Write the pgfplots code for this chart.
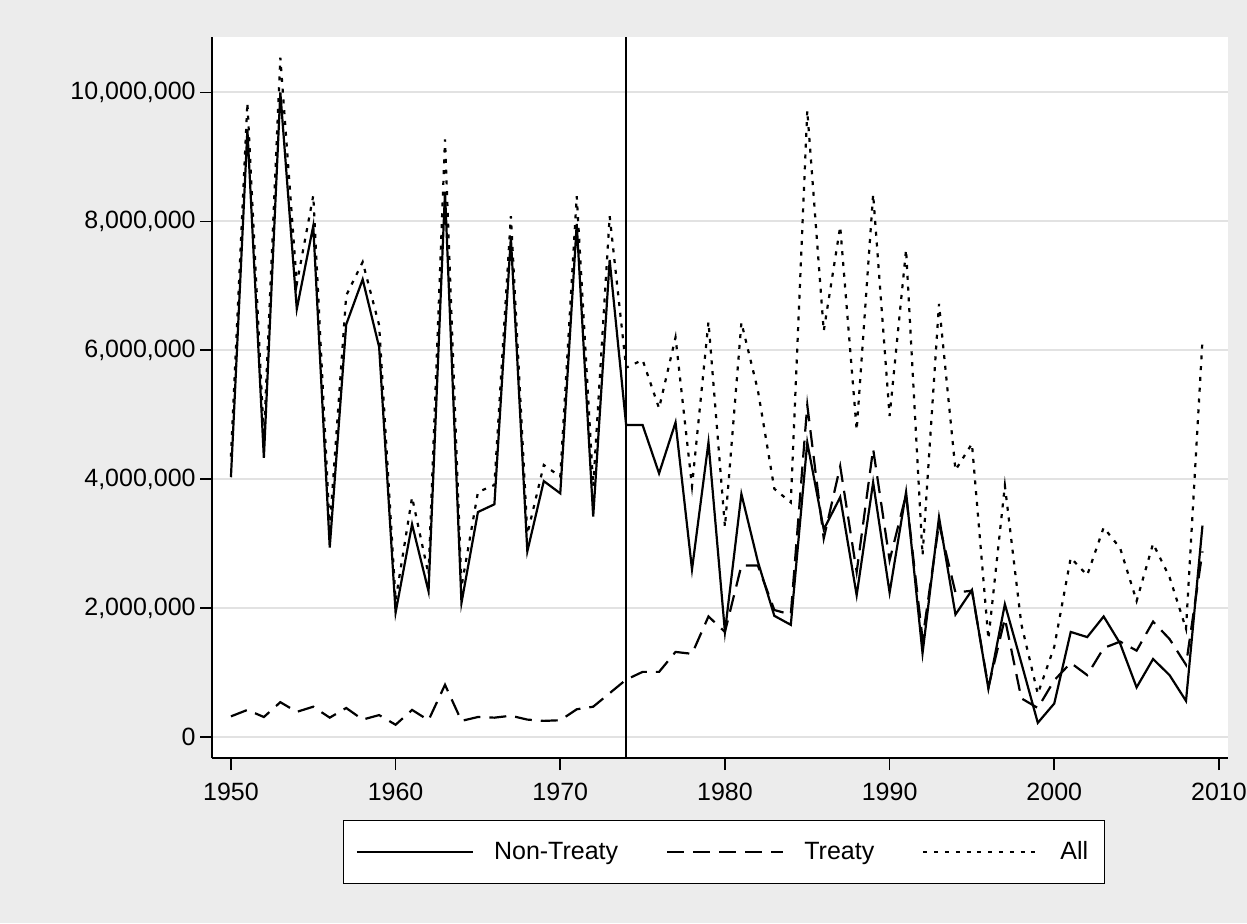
\documentclass[border=0pt]{standalone}
\usepackage{fontspec}
\setmainfont{Liberation Sans}
\usepackage{pgfplots}
\usepackage{pgfplotstable}
\pgfplotsset{compat=1.18}
\definecolor{bggray}{RGB}{236,236,236}
\definecolor{gridgray}{RGB}{226,226,226}

\pgfplotstableread{
year nt t all
1950 4030000 320000 4350000
1951 9420000 420000 9840000
1952 4330000 310000 4640000
1953 10000000 540000 10540000
1954 6640000 390000 7030000
1955 7930000 470000 8400000
1956 2940000 300000 3240000
1957 6400000 450000 6850000
1958 7100000 270000 7370000
1959 6050000 340000 6390000
1960 1930000 190000 2120000
1961 3300000 420000 3720000
1962 2260000 260000 2520000
1963 8460000 810000 9270000
1964 2080000 250000 2330000
1965 3490000 310000 3800000
1966 3610000 300000 3910000
1967 7750000 330000 8080000
1968 2880000 270000 3150000
1969 3970000 250000 4220000
1970 3780000 260000 4040000
1971 7960000 430000 8390000
1972 3420000 470000 3890000
1973 7400000 680000 8080000
1974 4840000 890000 5730000
1975 4840000 1010000 5850000
1976 4090000 1010000 5100000
1977 4880000 1320000 6200000
1978 2600000 1290000 3890000
1979 4570000 1870000 6440000
1980 1630000 1630000 3260000
1981 3770000 2660000 6430000
1982 2720000 2660000 5380000
1983 1880000 1970000 3850000
1984 1740000 1900000 3640000
1985 4570000 5150000 9720000
1986 3220000 3080000 6300000
1987 3720000 4200000 7920000
1988 2200000 2560000 4760000
1989 3950000 4470000 8420000
1990 2240000 2740000 4980000
1991 3800000 3760000 7560000
1992 1300000 1520000 2820000
1993 3410000 3310000 6720000
1994 1900000 2240000 4140000
1995 2280000 2270000 4550000
1996 750000 770000 1520000
1997 2060000 1840000 3900000
1998 1150000 600000 1750000
1999 220000 450000 670000
2000 520000 880000 1400000
2001 1630000 1150000 2780000
2002 1550000 960000 2510000
2003 1870000 1380000 3250000
2004 1450000 1480000 2930000
2005 770000 1340000 2110000
2006 1210000 1790000 3000000
2007 960000 1520000 2480000
2008 560000 1120000 1680000
2009 3280000 2880000 6160000
}\datatable

\begin{document}
\begin{tikzpicture}
\fill[bggray] (-106pt,-82.5pt) rectangle (517.5pt,379pt);
\begin{axis}[
  width=508pt, height=360.5pt, scale only axis,
  xmin=1948.85, xmax=2010.55,
  ymin=-326000, ymax=10860000,
  axis background/.style={fill=white},
  axis x line*=bottom, axis y line*=left,
  axis line style={line width=1pt, black},
  tick align=outside,
  major tick length=6pt,
  tick style={line width=0.8pt, black},
  xtick={1950,1960,1970,1980,1990,2000,2010},
  xticklabels={1950,1960,1970,1980,1990,2000,2010},
  ytick={0,2000000,4000000,6000000,8000000,10000000},
  yticklabels={0,{2,000,000},{4,000,000},{6,000,000},{8,000,000},{10,000,000}},
  scaled y ticks=false,
  ticklabel style={font=\fontsize{12.5}{15}\selectfont, inner sep=0pt},
  yticklabel style={xshift=-2pt},
  xticklabel style={yshift=-6.2pt},
  ymajorgrids,
  grid style={line width=1pt, gridgray},
  legend columns=3,
  legend style={at={(0.504,-0.1304)}, anchor=center, draw=black, line width=0.6pt,
    fill=white, font=\fontsize{12.5}{15}\selectfont,
    inner xsep=6pt, inner ysep=8.5pt,
    /tikz/every even column/.append style={column sep=22pt}},
  legend image code/.code={\draw[#1] (0pt,0pt) -- (58pt,0pt); \path (66pt,0pt);},
  clip=false,
]
\draw[line width=0.75pt, black] (axis cs:1974,-326000) -- (axis cs:1974,10860000);
\addplot[black, line width=1.1pt, line join=miter] table[x=year,y=nt]{\datatable};
\addlegendentry{Non-Treaty}
\addplot[black, line width=1.1pt, dash pattern=on 8.5pt off 4.5pt] table[x=year,y=t]{\datatable};
\addlegendentry{Treaty}
\addplot[black, line width=1.1pt, dash pattern=on 2pt off 3.4pt] table[x=year,y=all]{\datatable};
\addlegendentry{All}
\end{axis}
\end{tikzpicture}
\end{document}
